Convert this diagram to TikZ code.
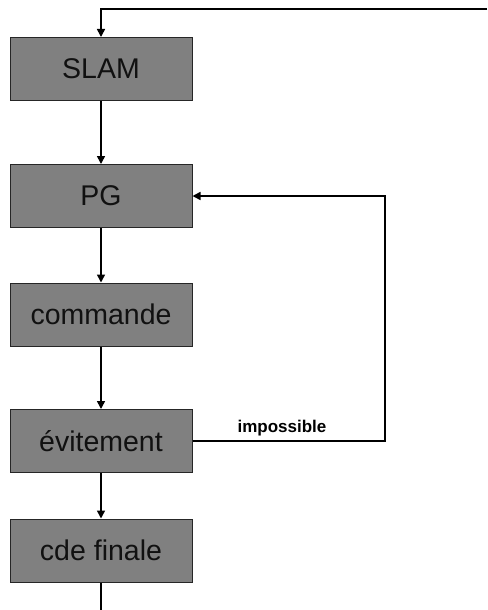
\documentclass[tikz,border=0pt]{standalone}
\usepackage{fontspec}
\setmainfont{Liberation Sans}
\usetikzlibrary{arrows.meta}
\definecolor{boxgray}{HTML}{808080}
\definecolor{txt}{HTML}{111111}
\begin{document}
\begin{tikzpicture}[x=1pt,y=-1pt,
  stepbox/.style={draw=black!85,line width=1pt,fill=boxgray,minimum width=182pt,minimum height=63pt,inner sep=0pt,text=txt,font=\fontsize{28.5}{31}\selectfont},
  conn/.style={line width=1.6pt,-{Triangle[length=8pt,width=8pt]}},
  plain/.style={line width=1.6pt}]
\useasboundingbox (0,0) rectangle (487,610);
\node[stepbox] (slam) at (101,69) {SLAM};
\node[stepbox] (pg) at (101,196) {PG};
\node[stepbox] (cmd) at (101,314.5) {commande};
\node[stepbox] (evit) at (101,441) {évitement};
\node[stepbox] (cde) at (101,550.5) {cde finale};
\coordinate (tr) at (487,9);
\coordinate (tl) at (101,9);
\coordinate (rb) at (385,441);
\coordinate (bot) at (101,610);
\draw[conn] (tr) -- (tl) -- (slam.north);
\draw[conn] (slam) -- (pg);
\draw[conn] (pg) -- (cmd);
\draw[conn] (cmd) -- (evit);
\draw[conn] (evit) -- (cde);
\draw[plain] (cde.south) -- (bot);
\draw[conn] (evit.east) -- (rb) |- (pg.east);
\node[font=\bfseries\fontsize{17}{19}\selectfont,inner sep=0pt] (imp) at (282,428) {impossible};
\end{tikzpicture}
\end{document}
